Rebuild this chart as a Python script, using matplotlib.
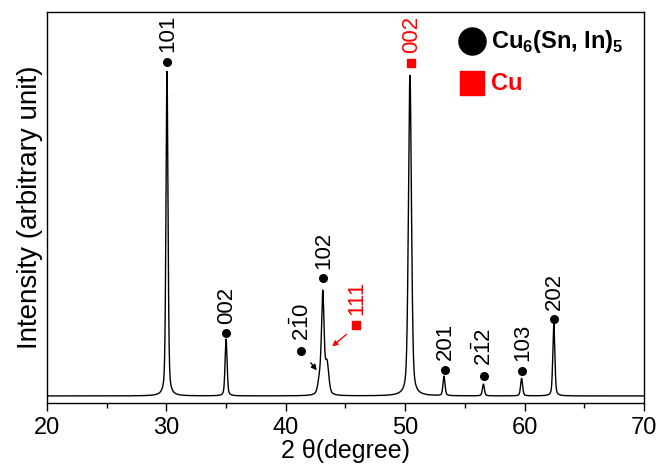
import numpy as np
import matplotlib
matplotlib.use("Agg")
import matplotlib.pyplot as plt

plt.rcParams['font.family'] = ['Liberation Sans', 'DejaVu Sans']
plt.rcParams['mathtext.fontset'] = 'custom'
plt.rcParams['mathtext.rm'] = 'Liberation Sans'
plt.rcParams['mathtext.bf'] = 'Liberation Sans:bold'

# peak list: position (2θ), height, FWHM
peak_pos = [30.05, 35.0, 42.85, 43.1, 43.45, 50.4, 53.25, 56.55, 59.75, 62.45]
peak_height = [0.83, 0.145, 0.04, 0.25, 0.08, 0.82, 0.05, 0.03, 0.045, 0.185]
peak_fwhm = [0.2, 0.2, 0.35, 0.25, 0.35, 0.3, 0.2, 0.2, 0.2, 0.2]
baseline = 0.018

# labels: marker position, marker height, label text
cu6_pos = [30.07, 35.0, 41.3, 43.15, 53.3, 56.6, 59.77, 62.45]
cu6_y = [0.872, 0.178, 0.133, 0.319, 0.084, 0.069, 0.082, 0.214]
cu6_lbl = ['101', '002', r'$2\bar{1}0$', '102', '201', r'$2\bar{1}2$', '103', '202']
cu_pos = [50.45, 45.9]
cu_y = [0.87, 0.2]
cu_lbl = ['002', '111']

x = np.arange(20, 70.001, 0.01)
y = np.full_like(x, baseline)
for p, h, w in zip(peak_pos, peak_height, peak_fwhm):
    hw = w / 2
    lor = 1 / (1 + ((x - p) / hw) ** 2)
    gau = np.exp(-np.log(2) * ((x - p) / hw) ** 2)
    y += h * (0.4 * lor + 0.6 * gau)

fig = plt.figure(figsize=(6.59, 4.71), dpi=100)
ax = fig.add_axes([0.0713, 0.1444, 0.9059, 0.830])
ax.plot(x, y, color='black', lw=1)

ax.set_xlim(20, 70)
ax.set_ylim(0, 1)
ax.set_xticks(np.arange(20, 71, 10))
ax.set_xticks(np.arange(25, 70, 10), minor=True)
ax.set_yticks([])
ax.tick_params(axis='x', which='major', direction='out', length=6, width=1, labelsize=17, pad=4)
ax.tick_params(axis='x', which='minor', direction='out', length=3.5, width=1)
for s in ax.spines.values():
    s.set_linewidth(1)
ax.set_xlabel('2 θ(degree)', fontsize=18, labelpad=0)
ax.set_ylabel('Intensity (arbitrary unit)', fontsize=20, labelpad=3)

ax.scatter(cu6_pos, cu6_y, s=30, color='black', zorder=3)
for px, py, t in zip(cu6_pos, cu6_y, cu6_lbl):
    ax.text(px + 0.05, py + 0.025, t, rotation=90, ha='center', va='bottom', fontsize=16)

ax.scatter(cu_pos, cu_y, s=30, marker='s', color='red', zorder=3)
for px, py, t in zip(cu_pos, cu_y, cu_lbl):
    ax.text(px + 0.05, py + 0.025, t, rotation=90, ha='center', va='bottom', fontsize=16, color='red')

ax.annotate('', xy=(42.75, 0.078), xytext=(41.95, 0.108),
            arrowprops=dict(arrowstyle='-|>', color='black', lw=1, mutation_scale=8))
ax.annotate('', xy=(43.7, 0.14), xytext=(45.25, 0.18),
            arrowprops=dict(arrowstyle='-|>', color='red', lw=1, mutation_scale=8))

# legend drawn by hand
ax.scatter([55.6], [0.925], s=380, color='black')
ax.text(57.2, 0.925, r'Cu$_\mathbf{6}$(Sn, In)$_\mathbf{5}$', fontsize=17, va='center', ha='left',
        fontweight='bold')
ax.scatter([55.6], [0.818], s=320, marker='s', color='red')
ax.text(57.2, 0.818, 'Cu', fontsize=17, va='center', ha='left', color='red', fontweight='bold')

fig.savefig('out.png', dpi=100)
